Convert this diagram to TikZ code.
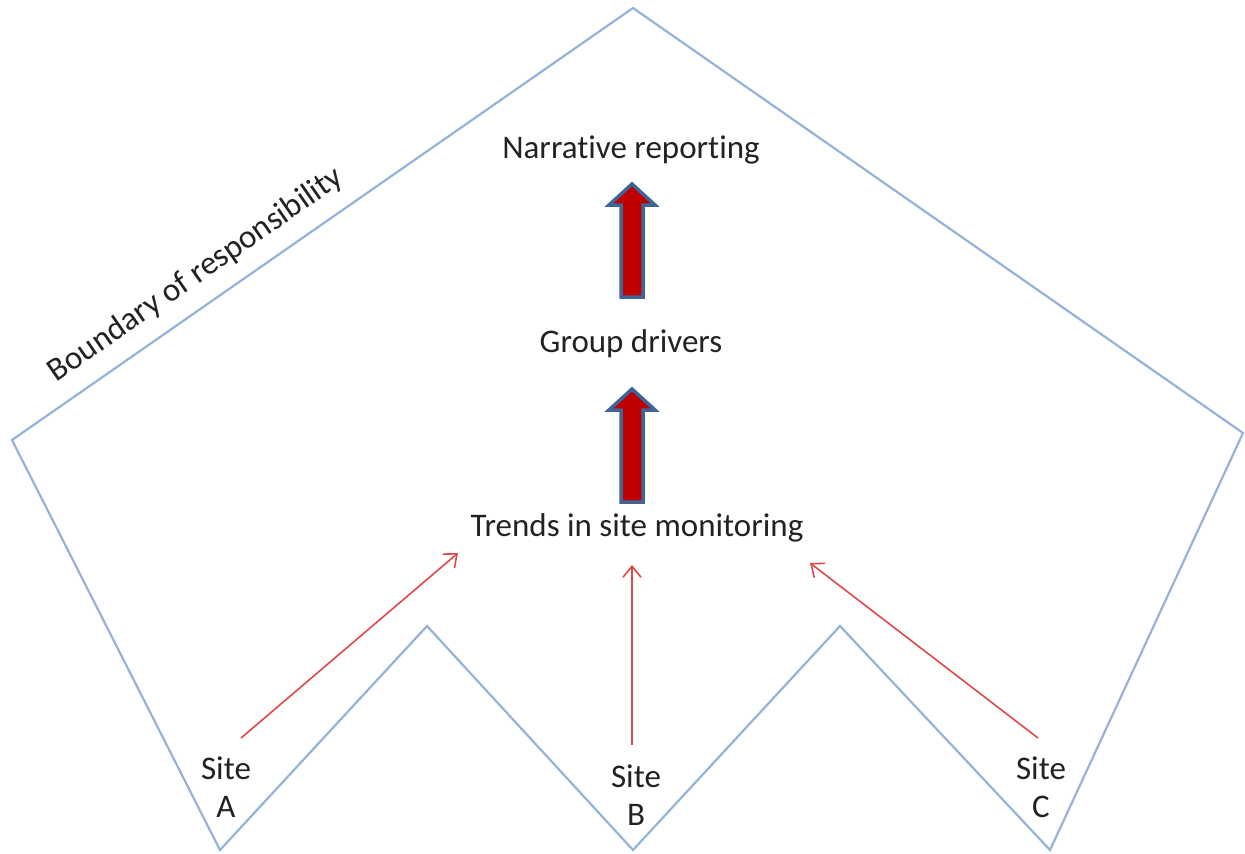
\documentclass[tikz,border=0pt]{standalone}
\usepackage{fontspec}
\setmainfont{Carlito}[Ligatures=NoCommon]
\usetikzlibrary{arrows.meta}
\definecolor{bound}{HTML}{95B3D7}
\definecolor{thinred}{HTML}{E04848}
\definecolor{fatred}{HTML}{C00000}
\definecolor{fatedge}{HTML}{3F6496}
\definecolor{txt}{HTML}{222222}
\tikzset{
  lbl/.style={text=txt, font=\fontsize{33}{38}\selectfont, inner sep=0pt, align=center},
  boundary/.style={draw=bound, line width=2.2pt, line join=miter},
  fatarrow/.style={fill=fatred, draw=fatedge, line width=3.5pt, line join=miter},
  feed/.style={draw=thinred, line width=1.6pt, -{Straight Barb[length=11pt,width=18pt,line width=1.6pt]}}
}
\begin{document}
\begin{tikzpicture}[x=1pt,y=-1pt]
\useasboundingbox (0,0) rectangle (1245,854);
% boundary
\draw[boundary] (633,8) -- (1243,433) -- (1050,850) -- (840,626) -- (633,850) -- (427,626) -- (220,850) -- (12,440) -- cycle;
\node[lbl, rotate=34.8] (bnd) at (196,275) {Boundary of responsibility};
% labels
\node[lbl] (nar) at (631,150) {Narrative reporting};
\node[lbl] (grp) at (631,344) {Group drivers};
\node[lbl] (trd) at (637,528) {Trends in site monitoring};
\node[lbl] (sa) at (226,787) {Site\\A};
\node[lbl] (sb) at (636,795) {Site\\B};
\node[lbl] (sc) at (1041,787) {Site\\C};
% fat arrows
\draw[fatarrow] (621,297) -- (621,205) -- (609,205) -- (632,184) -- (655,205) -- (643,205) -- (643,297) -- cycle;
\draw[fatarrow] (621,502) -- (621,410) -- (609,410) -- (632,389) -- (655,410) -- (643,410) -- (643,502) -- cycle;
% thin feeds
\coordinate (ta) at (458,553);
\coordinate (tb) at (632,565);
\coordinate (tc) at (810,563);
\coordinate (fa) at (241,738);
\coordinate (fb) at (632,745);
\coordinate (fc) at (1038,738);
\draw[feed] (fa) -- (ta);
\draw[feed] (fb) -- (tb);
\draw[feed] (fc) -- (tc);
\end{tikzpicture}
\end{document}
